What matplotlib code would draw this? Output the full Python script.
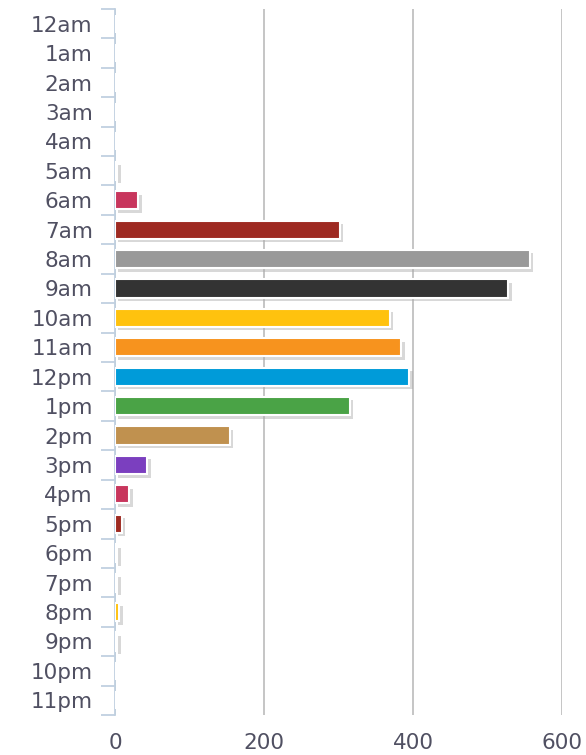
import matplotlib
matplotlib.use("Agg")
import matplotlib.pyplot as plt
import matplotlib.patheffects as pe
import numpy as np

hours = ["12am", "1am", "2am", "3am", "4am", "5am", "6am", "7am", "8am", "9am",
         "10am", "11am", "12pm", "1pm", "2pm", "3pm", "4pm", "5pm", "6pm", "7pm",
         "8pm", "9pm", "10pm", "11pm"]
values = [0, 0, 0, 0, 0, 3, 31, 302, 557, 528,
          369, 384, 395, 315, 154, 43, 19, 9, 3, 3,
          6, 3, 0, 0]
palette = ["#ffc20e", "#f7931e", "#009bd9", "#4aa346", "#c0914f",
           "#7b3fbf", "#c8365d", "#9e2a22", "#999999", "#333333"]
xticks = [0, 200, 400, 600]

W, H = 586, 755
fig = plt.figure(figsize=(W / 100, H / 100), dpi=100)
ax = fig.add_axes([115 / W, 1 - 715 / H, (562 - 115) / W, (715 - 9) / H])

y = np.arange(len(hours))
colors = [palette[i % len(palette)] for i in range(len(hours))]
bars = ax.barh(y, values, height=0.62, color=colors, edgecolor="white",
               linewidth=1.5, zorder=3)
for b in bars:
    b.set_path_effects([pe.SimplePatchShadow(offset=(2.5, -2.5), shadow_rgbFace="#aaaaaa", alpha=0.45),
                        pe.Normal()])

ax.set_ylim(len(hours) - 0.5, -0.5)
ax.set_xlim(0, 600)
ax.set_xticks(xticks)
ax.set_xticklabels([str(t) for t in xticks])
ax.xaxis.grid(True, color="#c0c0c0", linewidth=1.3, zorder=0)
ax.set_axisbelow(True)

ax.set_yticks(y)
ax.set_yticklabels(hours)
ax.set_yticks(np.arange(-0.5, len(hours) + 0.5, 1), minor=True)
ax.tick_params(axis="y", which="major", length=0, pad=16, labelsize=15.5, labelcolor="#505062")
ax.tick_params(axis="y", which="minor", length=10, color="#c0d0e0", width=1.3)
ax.tick_params(axis="x", length=0, pad=13, labelsize=15.5, labelcolor="#505062")

for s in ["top", "right", "bottom"]:
    ax.spines[s].set_visible(False)
ax.spines["left"].set_color("#c0d0e0")
ax.spines["left"].set_linewidth(1.3)

fig.savefig("out.png", dpi=100, facecolor="white")
